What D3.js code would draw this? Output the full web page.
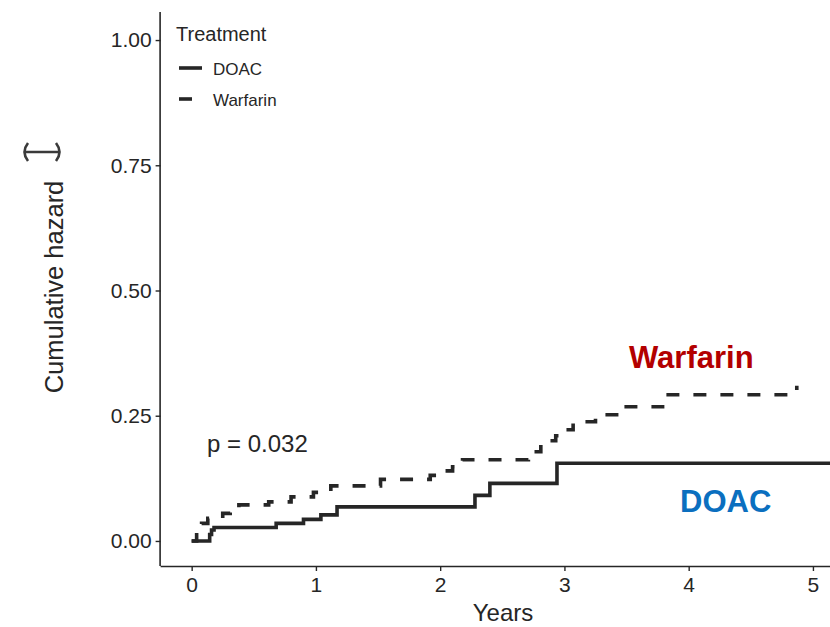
<!DOCTYPE html>
<html>
<head>
<meta charset="utf-8">
<script src="https://cdn.jsdelivr.net/npm/d3@7"></script>
<style>
  html, body { margin: 0; padding: 0; background: #fff; }
  svg { display: block; font-family: "Liberation Sans", Arial, sans-serif; }
</style>
</head>
<body>
<svg id="chart" width="830" height="627"></svg>
<script>
// Cumulative hazard step curves (time in years, cumulative hazard)
const doacTimes   = [0, 0.145, 0.16, 0.18, 0.68, 0.90, 1.04, 1.17, 2.28, 2.40, 2.94, 5.25];
const doacHazard  = [0, 0.013, 0.022, 0.027, 0.035, 0.043, 0.052, 0.068, 0.091, 0.115, 0.155, 0.155];

const warfarinTimes  = [0, 0.04, 0.08, 0.13, 0.25, 0.31, 0.38, 0.62, 0.80, 0.98, 1.12, 1.52, 1.92, 2.03, 2.10, 2.18, 2.71, 2.81, 2.93, 3.00, 3.07, 3.25, 3.46, 3.79, 4.87];
const warfarinHazard = [0, 0.020, 0.035, 0.045, 0.055, 0.065, 0.072, 0.078, 0.088, 0.097, 0.110, 0.123, 0.131, 0.140, 0.148, 0.162, 0.178, 0.200, 0.210, 0.222, 0.238, 0.252, 0.268, 0.292, 0.310];

const xTicks = [0, 1, 2, 3, 4, 5];
const yTicks = [0, 0.25, 0.5, 0.75, 1];
const legendTitle = "Treatment";
const groups = ["DOAC", "Warfarin"];
const pValueText = "p = 0.032";

const svg = d3.select("#chart");
const ink = "#262626";

const x = d3.scaleLinear().domain([-0.25, 5.25]).range([160.6, 844]);
const y = d3.scaleLinear().domain([-0.05, 1.05]).range([566, 15]);

// Axes (classic theme: axis lines, outside ticks, no grid)
const xAxis = d3.axisBottom(x).tickValues(xTicks).tickFormat(d3.format("d")).tickSize(5).tickPadding(6);
const yAxis = d3.axisLeft(y).tickValues(yTicks).tickFormat(d3.format(".2f")).tickSize(5).tickPadding(4);

const gx = svg.append("g").attr("transform", "translate(0,566)").call(xAxis);
const gy = svg.append("g").attr("transform", "translate(160.6,0)").call(yAxis);

[gx, gy].forEach(g => {
  g.select(".domain").attr("stroke", ink).attr("stroke-width", 1.6);
  g.selectAll(".tick line").attr("stroke", ink).attr("stroke-width", 1.4);
  g.selectAll(".tick text").attr("fill", ink).style("font-size", "21px")
    .style("font-family", '"Liberation Sans", Arial, sans-serif');
});
gx.select(".domain").attr("d", "M160.6,0.5H830");
gy.select(".domain").attr("d", "M-0.5,566V12");

// Axis titles
svg.append("text")
  .attr("x", 503).attr("y", 621)
  .attr("text-anchor", "middle")
  .attr("fill", ink)
  .style("font-size", "24px")
  .text("Years");

svg.append("text")
  .attr("transform", "translate(63,287) rotate(-90)")
  .attr("text-anchor", "middle")
  .attr("fill", ink)
  .style("font-size", "25.5px")
  .text("Cumulative hazard");

// small bracket mark above the y title
svg.append("path")
  .attr("d", "M25,152H59 M28,143Q21,152 28,161 M56,143Q63,152 56,161")
  .attr("fill", "none")
  .attr("stroke", "#3a3a3a")
  .attr("stroke-width", 2.6);

// Step curves
const step = d3.line()
  .x(d => x(d[0]))
  .y(d => y(d[1]))
  .curve(d3.curveStepAfter);

const doacData = doacTimes.map((t, i) => [t, doacHazard[i]]);
const warfarinData = warfarinTimes.map((t, i) => [t, warfarinHazard[i]]);

svg.append("path")
  .datum(doacData)
  .attr("d", step)
  .attr("fill", "none")
  .attr("stroke", ink)
  .attr("stroke-width", 3.6);

svg.append("path")
  .datum(warfarinData)
  .attr("d", step)
  .attr("fill", "none")
  .attr("stroke", ink)
  .attr("stroke-width", 3.6)
  .attr("stroke-dasharray", "13,14");

// Legend
svg.append("text")
  .attr("x", 176).attr("y", 41)
  .attr("fill", ink)
  .style("font-size", "20px")
  .text(legendTitle);

const legend = svg.append("g");
groups.forEach((g, i) => {
  const ly = 68 + i * 31;
  legend.append("line")
    .attr("x1", 179).attr("x2", i === 0 ? 202 : 192)
    .attr("y1", ly).attr("y2", ly)
    .attr("stroke", ink)
    .attr("stroke-width", 3.6);
  legend.append("text")
    .attr("x", 213).attr("y", ly + 7)
    .attr("fill", ink)
    .style("font-size", "17px")
    .text(g);
});

// p-value annotation
svg.append("text")
  .attr("x", 207).attr("y", 452)
  .attr("fill", ink)
  .style("font-size", "24px")
  .text(pValueText);

// Direct group labels
svg.append("text")
  .attr("x", 629).attr("y", 368)
  .attr("fill", "#b30000")
  .style("font-size", "31px")
  .style("font-weight", "bold")
  .text(groups[1]);

svg.append("text")
  .attr("x", 680).attr("y", 512)
  .attr("fill", "#0b6fbf")
  .style("font-size", "31px")
  .style("font-weight", "bold")
  .text(groups[0]);
</script>
</body>
</html>
